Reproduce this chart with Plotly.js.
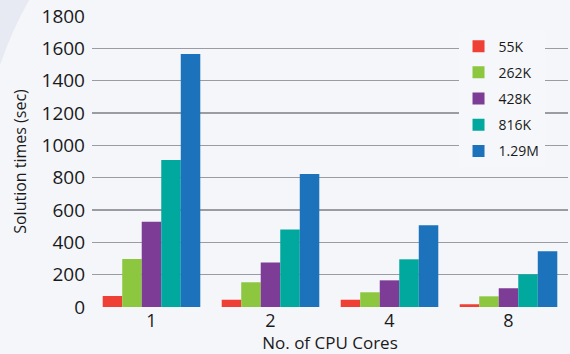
<!DOCTYPE html>
<html><head><meta charset="utf-8">
<script src="https://cdn.plot.ly/plotly-3.0.1.min.js"></script>
<style>html,body{margin:0;padding:0;background:#f4f5fa;}#chart{width:570px;height:354px;}</style>
</head><body><div id="chart"></div>
<script>
var categories = ['1', '2', '4', '8'];
var seriesNames = ['55K', '262K', '428K', '816K', '1.29M'];
var s55K = [68, 45, 45, 17];
var s262K = [297, 153, 91, 66];
var s428K = [527, 276, 165, 116];
var s816K = [909, 480, 295, 202];
var s129M = [1565, 822, 505, 345];
var seriesValues = [s55K, s262K, s428K, s816K, s129M];
var colors = ['#ee4035', '#8dc63f', '#7d3c96', '#00a89d', '#1c72bb'];
var yTicks = [0, 200, 400, 600, 800, 1000, 1200, 1400, 1600, 1800];

var font = '"Open Sans", "DejaVu Sans", sans-serif';
var traces = seriesNames.map(function(n, i){
  return {type:'bar', name:n, x:categories, y:seriesValues[i],
    marker:{color:colors[i], line:{width:0}}, legendgroup:'g'+i};
});
var layout = {
  width:570, height:354,
  margin:{l:92, r:2, t:16, b:47},
  paper_bgcolor:'#f5f6fa', plot_bgcolor:'rgba(0,0,0,0)',
  barmode:'group', bargap:0.18, bargroupgap:0,
  font:{family:font, color:'#1a1a1a'},
  xaxis:{type:'category', tickfont:{size:18}, showgrid:false, zeroline:false, showline:false, ticks:'',
    ticklabelstandoff:1,
    title:{text:'No. of CPU Cores', font:{size:17}, standoff:0}},
  yaxis:{range:[0,1800], tickvals:yTicks, ticktext:yTicks.map(String), tickfont:{size:19},
    gridcolor:'#9b9ca3', gridwidth:1.5, zeroline:false, showline:false, ticks:'', ticklen:0,
    ticklabelstandoff:6,
    title:{text:'Solution times (sec)', font:{size:16}, standoff:10}},
  legend:{x:0.77, y:0.95, xanchor:'left', yanchor:'top', bgcolor:'#f6f7fb',
    font:{size:14}, tracegroupgap:5, itemwidth:30},
  shapes:[{type:'path', xref:'paper', yref:'paper', layer:'below',
    path:'M -0.2 1.06 L -0.13 1.06 Q -0.17 0.95 -0.2 0.8 Z',
    fillcolor:'#e7e9f3', line:{width:0}}],
  showlegend:true
};
Plotly.newPlot('chart', traces, layout, {displayModeBar:false, staticPlot:true});
</script></body></html>
